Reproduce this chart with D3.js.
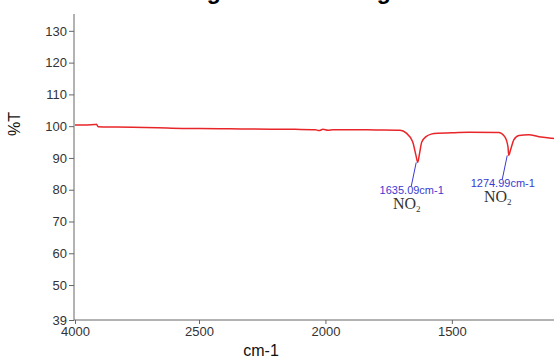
<!DOCTYPE html>
<html>
<head>
<meta charset="utf-8">
<script src="https://cdn.jsdelivr.net/npm/d3@7"></script>
<style>
  body { margin: 0; background: #fff; }
  svg { display: block; font-family: "Liberation Sans", Arial, sans-serif; }
</style>
</head>
<body>
<div id="chart"></div>
<script>
// wavenumber (cm-1) and transmittance (%T)
const wavenumbers = [4000, 3850, 3760, 3740, 3720, 3500, 3000, 2700, 2500, 2300, 2120, 2040, 2025, 2010, 1990, 1970, 1900, 1800, 1705, 1680, 1655, 1642, 1635, 1628, 1619, 1602, 1582, 1556, 1500, 1433, 1315, 1291, 1278, 1275, 1268, 1255, 1235, 1196, 1156, 1104, 1080];
const transmittance = [100.4, 100.4, 100.5, 100.6, 99.8, 99.7, 99.5, 99.3, 99.3, 99.1, 99.0, 98.9, 98.6, 99.0, 98.7, 98.9, 98.9, 98.8, 98.7, 97.8, 95.1, 90.8, 88.6, 91.3, 95.0, 96.7, 97.5, 97.8, 97.9, 98.1, 98.0, 96.7, 93.5, 90.8, 92.5, 95.7, 97.1, 97.3, 96.7, 96.2, 96.0];

const peakWavenumbers = [1635, 1275];
const peakValues = [88.6, 90.8];
const peakLabels = ["1635.09cm-1", "1274.99cm-1"];
const peakGroups = ["NO", "NO"];

const xTicks = [4000, 2500, 2000, 1500];
const yTicks = [39, 50, 60, 70, 80, 90, 100, 110, 120, 130];

const width = 554, height = 359;
const marginLeft = 74, plotTop = 14, plotBottom = 320;

const x = d3.scaleLinear()
  .domain([4000, 2500, 400])
  .range([marginLeft + 1, 199, 730]);

const y = d3.scaleLinear()
  .domain([39, 135.3])
  .range([plotBottom, plotTop]);

const svg = d3.select("#chart").append("svg")
  .attr("width", width)
  .attr("height", height)
  .attr("viewBox", [0, 0, width, height]);

// title, cut off by the top edge of the picture
svg.append("text")
  .attr("x", 84)
  .attr("y", -1)
  .attr("font-size", 23)
  .attr("font-weight", "bold")
  .attr("fill", "#000")
  .text("Thin coating after annealing");

const data = wavenumbers.map((w, i) => ({ w, t: transmittance[i] }));

svg.append("path")
  .datum(data)
  .attr("fill", "none")
  .attr("stroke", "#e8262a")
  .attr("stroke-width", 1.5)
  .attr("d", d3.line().x(d => x(d.w)).y(d => y(d.t)).curve(d3.curveMonotoneX));

const yAxis = svg.append("g")
  .attr("transform", `translate(${marginLeft},0)`)
  .call(d3.axisLeft(y).tickValues(yTicks).tickSize(5).tickPadding(2).tickSizeOuter(0));

const xAxis = svg.append("g")
  .attr("transform", `translate(0,${plotBottom})`)
  .call(d3.axisBottom(x).tickValues(xTicks).tickFormat(d3.format("d")).tickSize(4).tickPadding(3).tickSizeOuter(0));

[xAxis, yAxis].forEach(g => {
  g.select(".domain").attr("stroke", "#666");
  g.selectAll(".tick line").attr("stroke", "#666");
  g.selectAll(".tick text")
    .attr("font-size", 13)
    .attr("fill", "#333")
    .attr("font-family", "'Liberation Sans', Arial, sans-serif");
});
xAxis.select(".domain").attr("d", `M${marginLeft},0H${width}`);
yAxis.select(".domain").attr("d", `M0,${plotTop}V${plotBottom}`);

svg.append("text")
  .attr("x", 261)
  .attr("y", 356)
  .attr("text-anchor", "middle")
  .attr("font-size", 16)
  .attr("fill", "#111")
  .text("cm-1");

svg.append("text")
  .attr("transform", `translate(20,124) rotate(-90)`)
  .attr("text-anchor", "middle")
  .attr("font-size", 16)
  .attr("fill", "#111")
  .text("%T");

// peak annotations
const peaks = svg.append("g")
  .selectAll("g")
  .data(peakWavenumbers.map((w, i) => ({ w, t: peakValues[i], label: peakLabels[i], group: peakGroups[i] })))
  .join("g")
  .attr("transform", d => `translate(${x(d.w) - 1.5},${y(d.t)})`);

peaks.append("line")
  .attr("x1", 0).attr("y1", 0)
  .attr("x2", -5).attr("y2", 24)
  .attr("stroke", "#3a3ad0")
  .attr("stroke-width", 1);

peaks.append("text")
  .attr("x", -4.5)
  .attr("y", 32)
  .attr("text-anchor", "middle")
  .attr("font-size", 11)
  .attr("fill", "#3a3ad0")
  .text(d => d.label);

peaks.append("text")
  .attr("x", -9.5)
  .attr("y", 47)
  .attr("text-anchor", "middle")
  .attr("font-family", "'Liberation Serif', 'Times New Roman', serif")
  .attr("font-size", 16)
  .attr("fill", "#333")
  .call(t => {
    t.append("tspan").text(d => d.group);
    t.append("tspan").attr("font-size", 9).attr("dy", 3).text("2");
  });
</script>
</body>
</html>
